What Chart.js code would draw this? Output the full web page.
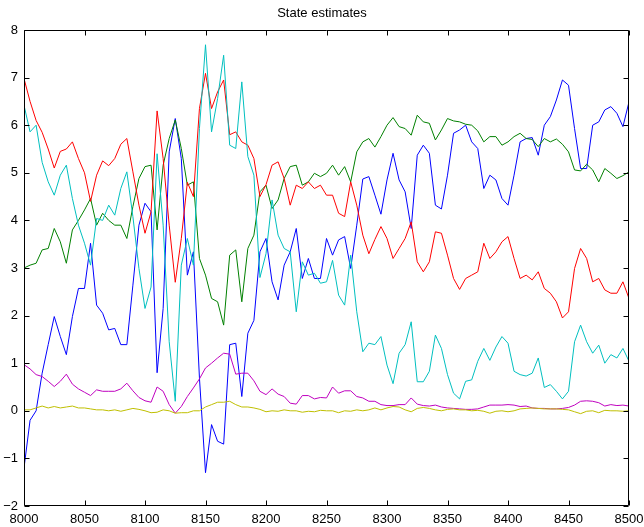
<!DOCTYPE html>
<html>
<head>
<meta charset="utf-8">
<title>State estimates</title>
<script src="https://cdn.jsdelivr.net/npm/chart.js@4.4.1/dist/chart.umd.min.js"></script>
<style>
  html, body { margin: 0; padding: 0; background: #fff; }
  #wrap { width: 644px; height: 527px; }
</style>
</head>
<body>
<div id="wrap"><canvas id="myChart" width="644" height="527"></canvas></div>
<script>
// instantes de tiempo (cada 5 muestras)
const steps = [
  8000, 8005, 8010, 8015, 8020, 8025, 8030, 8035, 8040, 8045, 8050, 8055, 8060, 8065, 8070, 8075, 8080,
  8085, 8090, 8095, 8100, 8105, 8110, 8115, 8120, 8125, 8130, 8135, 8140, 8145, 8150, 8155, 8160, 8165,
  8170, 8175, 8180, 8185, 8190, 8195, 8200, 8205, 8210, 8215, 8220, 8225, 8230, 8235, 8240, 8245, 8250,
  8255, 8260, 8265, 8270, 8275, 8280, 8285, 8290, 8295, 8300, 8305, 8310, 8315, 8320, 8325, 8330,
  8335, 8340, 8345, 8350, 8355, 8360, 8365, 8370, 8375, 8380, 8385, 8390, 8395, 8400, 8405, 8410, 8415,
  8420, 8425, 8430, 8435, 8440, 8445, 8450, 8455, 8460, 8465, 8470, 8475, 8480, 8485, 8490, 8495, 8500
];

// estados
const blueState = [
  -1.2, -0.2, 0.0, 0.79, 1.39, 1.98, 1.56, 1.18, 1.98, 2.57, 2.57, 3.52, 2.22, 2.05, 1.7, 1.73, 1.39,
  1.39, 2.64, 3.9, 4.36, 4.18, 0.8, 2.15, 5.44, 6.14, 5.3, 2.85, 3.34, 0.69, -1.3, -0.29, -0.64, -0.7,
  1.39, 1.42, 0.3, 1.63, 1.9, 3.34, 3.62, 2.71, 2.33, 3.06, 3.34, 3.83, 2.78, 3.2, 2.78, 2.78, 3.62,
  3.27, 3.59, 3.66, 2.99, 3.9, 4.87, 4.92, 4.53, 4.13, 4.85, 5.41, 4.85, 4.6, 3.83, 5.37, 5.58,
  5.41, 4.32, 4.24, 4.95, 5.83, 5.9, 6.0, 5.65, 5.51, 4.67, 4.95, 4.85, 4.46, 4.32, 4.95, 5.65, 5.72,
  5.74, 5.37, 6.0, 6.18, 6.53, 6.95, 6.84, 5.93, 5.09, 5.09, 6.0, 6.07, 6.32, 6.39, 6.25, 5.97, 6.49
];
const greenState = [
  3.0, 3.06, 3.1, 3.38, 3.41, 3.83, 3.55, 3.1, 3.8, 4.0, 4.22, 4.46, 3.9, 4.15, 4.0, 3.9, 3.9,
  3.62, 4.29, 4.88, 5.13, 5.16, 3.8, 5.16, 5.72, 6.11, 5.51, 4.74, 4.81, 3.2, 2.85, 2.36, 2.29, 1.8,
  3.27, 3.38, 2.29, 3.41, 3.69, 4.6, 4.74, 4.25, 4.43, 4.88, 5.13, 5.16, 4.74, 4.81, 4.99, 4.92, 4.99,
  5.16, 4.95, 5.13, 4.81, 5.44, 5.65, 5.72, 5.54, 5.76, 6.0, 6.16, 5.97, 5.93, 5.79, 6.21, 6.07,
  6.04, 5.69, 5.9, 6.14, 6.09, 6.07, 6.02, 6.0, 5.88, 5.65, 5.76, 5.76, 5.58, 5.65, 5.76, 5.83, 5.72,
  5.7, 5.55, 5.72, 5.65, 5.71, 5.6, 5.44, 5.06, 5.04, 5.18, 5.06, 4.81, 5.09, 4.99, 4.88, 4.94, 5.02
];
const redState = [
  6.98, 6.5, 6.1, 5.85, 5.5, 5.1, 5.45, 5.5, 5.65, 5.3, 5.0, 4.4, 4.95, 5.25, 5.15, 5.3, 5.6,
  5.72, 5.02, 4.32, 3.73, 4.18, 6.3, 5.3, 3.9, 2.7, 3.62, 4.8, 4.5, 6.35, 7.09, 6.35, 6.7, 6.95,
  5.8, 5.86, 5.65, 5.58, 5.3, 4.5, 4.75, 5.16, 5.23, 4.88, 4.32, 4.74, 4.67, 4.81, 4.67, 4.74, 4.53,
  4.53, 4.15, 4.08, 4.81, 4.32, 3.69, 3.3, 3.6, 3.87, 3.62, 3.2, 3.41, 3.62, 3.97, 3.13, 2.92,
  3.13, 3.76, 3.73, 3.27, 2.78, 2.55, 2.78, 2.85, 2.92, 3.52, 3.2, 3.34, 3.55, 3.66, 3.2, 2.78, 2.85,
  2.75, 2.92, 2.57, 2.47, 2.29, 1.95, 2.08, 2.99, 3.41, 3.2, 2.71, 2.78, 2.54, 2.47, 2.47, 2.71, 2.36
];
const cyanState = [
  6.42, 5.86, 6.0, 5.22, 4.81, 4.53, 4.95, 5.16, 4.46, 3.9, 3.52, 3.06, 4.04, 4.0, 4.32, 4.11, 4.67,
  5.02, 4.08, 2.99, 2.15, 2.6, 5.4, 3.9, 1.45, 0.2, 3.06, 3.62, 3.06, 5.93, 7.69, 5.86, 6.56, 7.47,
  5.58, 5.51, 6.91, 5.34, 4.95, 2.8, 3.3, 4.43, 3.69, 3.41, 3.34, 2.08, 3.13, 2.85, 2.89, 2.68, 2.71,
  3.16, 2.43, 2.22, 3.27, 2.08, 1.24, 1.42, 1.39, 1.56, 0.96, 0.57, 1.21, 1.39, 1.87, 0.61, 0.61,
  0.83, 1.59, 1.31, 0.76, 0.37, 0.25, 0.62, 0.65, 1.04, 1.31, 1.06, 1.34, 1.56, 1.42, 0.83, 0.76, 0.73,
  0.79, 1.11, 0.49, 0.55, 0.41, 0.25, 0.41, 1.45, 1.8, 1.45, 1.21, 1.38, 1.0, 1.18, 1.11, 1.31, 1.04
];
const magentaState = [
  0.97, 0.88, 0.76, 0.72, 0.62, 0.51, 0.62, 0.77, 0.56, 0.46, 0.39, 0.32, 0.44, 0.41, 0.41, 0.41, 0.46,
  0.58, 0.42, 0.28, 0.21, 0.18, 0.5, 0.41, 0.13, -0.05, 0.09, 0.3, 0.48, 0.67, 0.9, 1.0, 1.11, 1.21,
  1.19, 0.77, 0.79, 0.79, 0.63, 0.41, 0.34, 0.46, 0.35, 0.3, 0.16, 0.14, 0.32, 0.32, 0.25, 0.28, 0.27,
  0.5, 0.37, 0.42, 0.42, 0.3, 0.27, 0.2, 0.2, 0.13, 0.11, 0.11, 0.13, 0.13, 0.27, 0.14, 0.11,
  0.1, 0.12, 0.08, 0.06, 0.05, 0.04, 0.03, 0.03, 0.04, 0.08, 0.12, 0.12, 0.12, 0.13, 0.12, 0.09, 0.1,
  0.06, 0.05, 0.05, 0.04, 0.04, 0.05, 0.07, 0.12, 0.2, 0.21, 0.2, 0.17, 0.1, 0.13, 0.11, 0.12, 0.1
];
const yellowState = [
  0.02, 0.02, 0.06, 0.1, 0.06, 0.09, 0.06, 0.08, 0.1, 0.06, 0.06, 0.04, 0.02, 0.02, 0.0, 0.02, -0.01,
  0.02, 0.05, 0.03, 0.0, -0.04, -0.03, 0.02, 0.0, -0.05, -0.04, -0.04, 0.0, 0.0, 0.08, 0.13, 0.18, 0.18,
  0.2, 0.13, 0.08, 0.08, 0.06, 0.03, -0.02, 0.0, -0.01, 0.02, 0.0, 0.0, -0.03, -0.01, -0.02, 0.01, 0.0,
  0.0, -0.04, 0.0, -0.01, 0.02, 0.0, 0.02, 0.06, 0.02, 0.06, 0.09, 0.08, 0.02, -0.02, 0.05, 0.07,
  0.05, 0.02, 0.0, 0.03, 0.04, 0.02, 0.02, 0.0, 0.01, -0.01, -0.05, -0.01, 0.0, -0.02, 0.0, 0.04, 0.05,
  0.06, 0.05, 0.04, 0.04, 0.04, 0.03, 0.02, -0.02, -0.06, -0.01, 0.0, -0.04, 0.01, 0.0, 0.0, -0.01, 0.0
];

const xTicks = [8000, 8050, 8100, 8150, 8200, 8250, 8300, 8350, 8400, 8450, 8500];
const yTicks = [-2, -1, 0, 1, 2, 3, 4, 5, 6, 7, 8];

const FONT = 'Helvetica, "Liberation Sans", Arial, sans-serif';

function serie(values, color, order) {
  return {
    data: steps.map((t, i) => ({ x: t, y: values[i] })),
    borderColor: color,
    borderWidth: 1,
    pointRadius: 0,
    tension: 0,
    fill: false,
    order: order
  };
}

// marco negro y marcas hacia dentro, estilo matlab
const marco = {
  id: 'marco',
  afterDatasetsDraw(chart) {
    const { ctx, chartArea: a, scales } = chart;
    const L = Math.round(a.left) + 0.5, R = Math.round(a.right) - 0.5;
    const T = Math.round(a.top) + 0.5, B = Math.round(a.bottom) - 0.5;
    ctx.save();
    ctx.strokeStyle = '#000';
    ctx.lineWidth = 1;
    ctx.beginPath();
    ctx.rect(L, T, R - L, B - T);
    xTicks.forEach(v => {
      const px = Math.round(scales.x.getPixelForValue(v)) + 0.5;
      ctx.moveTo(px, B); ctx.lineTo(px, B - 5);
      ctx.moveTo(px, T); ctx.lineTo(px, T + 5);
    });
    yTicks.forEach(v => {
      const py = Math.round(scales.y.getPixelForValue(v)) + 0.5;
      ctx.moveTo(L, py); ctx.lineTo(L + 5, py);
      ctx.moveTo(R, py); ctx.lineTo(R - 5, py);
    });
    ctx.stroke();
    ctx.restore();
  }
};

const ctx = document.getElementById('myChart');

new Chart(ctx, {
  type: 'line',
  data: {
    datasets: [
      serie(blueState, '#0000ff', 6),
      serie(greenState, '#008000', 5),
      serie(redState, '#ff0000', 4),
      serie(cyanState, '#00bfbf', 3),
      serie(magentaState, '#bf00bf', 2),
      serie(yellowState, '#bfbf00', 1)
    ]
  },
  options: {
    responsive: false,
    animation: false,
    events: [],
    layout: { padding: 0 },
    plugins: {
      legend: { display: false },
      tooltip: { enabled: false },
      title: {
        display: true,
        text: 'State estimates',
        color: '#000',
        font: { family: FONT, size: 13, weight: 'normal', lineHeight: 1.2 },
        padding: { top: 5.5, bottom: 8.9 }
      }
    },
    scales: {
      x: {
        type: 'linear',
        min: 8000,
        max: 8500,
        afterBuildTicks: s => { s.ticks = xTicks.map(v => ({ value: v })); },
        afterFit: s => { s.height = 21; s.paddingLeft = 0; s.paddingRight = 15; },
        grid: { display: false, drawTicks: false },
        border: { display: false },
        ticks: {
          color: '#000', padding: 6, maxRotation: 0,
          font: { family: FONT, size: 13 },
          callback: v => String(v)
        }
      },
      y: {
        type: 'linear',
        min: -2,
        max: 8,
        afterBuildTicks: s => { s.ticks = yTicks.map(v => ({ value: v })); },
        afterFit: s => { s.width = 24; },
        grid: { display: false, drawTicks: false },
        border: { display: false },
        ticks: {
          color: '#000', padding: 6,
          font: { family: FONT, size: 13 },
          callback: v => (v < 0 ? '\u2212' + Math.abs(v) : String(v))
        }
      }
    }
  },
  plugins: [marco]
});
</script>
</body>
</html>
